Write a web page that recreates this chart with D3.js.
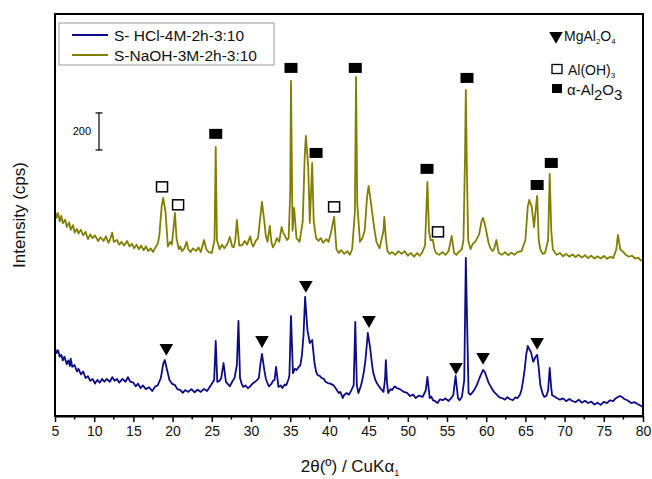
<!DOCTYPE html>
<html><head><meta charset="utf-8">
<script src="https://cdn.jsdelivr.net/npm/d3@7"></script>
<style>
body{margin:0;background:#fff;}
text{font-family:"Liberation Sans",Arial,Helvetica,sans-serif;}
</style></head>
<body><svg id="c" width="652" height="479"></svg>
<script>
// ---- data ----
const xTicks = [5,10,15,20,25,30,35,40,45,50,55,60,65,70,75,80];
const seriesNames = ["S- HCl-4M-2h-3:10", "S-NaOH-3M-2h-3:10"];
const seriesColors = ["#0c0c86", "#827f00"];

// S-NaOH-3M-2h-3:10 : [2theta, cps]
const naohData = [
[5.0,1110],[5.2,1070],[5.4,1095],[5.6,1050],[5.8,1080],[6.0,1040],[6.3,1060],[6.5,1020],[6.8,1045],[7.0,1005],
[7.3,1030],[7.5,990],[7.8,1010],[8.0,985],[8.3,1005],[8.6,975],[8.9,995],[9.2,955],[9.5,980],[9.8,960],
[10.1,975],[10.5,945],[10.8,965],[11.2,945],[11.5,970],[11.8,935],[12.0,950],[12.3,990],[12.5,940],[12.9,950],
[13.2,925],[13.5,940],[13.8,920],[14.2,945],[14.5,915],[14.8,930],[15.1,905],[15.4,925],[15.7,900],[16.0,920],
[16.3,895],[16.6,915],[16.9,890],[17.2,905],[17.5,885],[17.8,910],[18.1,930],[18.3,970],[18.6,1130],[18.8,1177],
[19.1,1100],[19.4,915],[19.7,940],[19.9,925],[20.2,1050],[20.3,1096],[20.5,960],[20.8,900],[21.0,915],[21.2,890],
[21.5,905],[21.8,940],[22.0,900],[22.3,885],[22.6,905],[23.0,890],[23.3,910],[23.6,885],[24.0,950],[24.3,900],
[24.6,885],[25.0,880],[25.35,950],[25.5,1453],[25.65,950],[26.0,900],[26.3,925],[26.6,905],[27.0,930],[27.3,967],
[27.6,915],[27.8,910],[28.0,950],[28.2,1058],[28.5,920],[28.9,923],[29.2,945],[29.5,925],[29.9,970],[30.1,930],
[30.3,915],[30.6,945],[30.9,960],[31.2,1080],[31.4,1156],[31.7,1050],[31.9,970],[32.1,940],[32.4,1026],[32.6,940],
[32.8,910],[33.1,935],[33.3,960],[33.6,940],[33.9,1020],[34.1,990],[34.3,975],[34.6,950],[34.8,960],[35.0,1200],
[35.1,1809],[35.3,1000],[35.5,1123],[35.8,960],[36.2,940],[36.6,1050],[36.85,1400],[37.0,1512],[37.3,1345],[37.5,1042],
[37.7,1250],[37.8,1366],[38.0,1050],[38.3,960],[38.6,945],[38.9,960],[39.2,935],[39.6,955],[39.9,940],[40.2,990],
[40.6,1075],[40.9,900],[41.2,880],[41.5,895],[41.9,875],[42.3,890],[42.6,870],[42.9,900],[43.25,1100],[43.4,1830],
[43.55,1150],[43.9,940],[44.2,960],[44.5,1000],[44.8,1180],[45.0,1242],[45.3,1150],[45.7,1020],[46.0,940],[46.4,905],
[46.9,1000],[47.0,1075],[47.2,960],[47.4,890],[47.7,875],[48.0,885],[48.4,870],[48.8,890],[49.2,875],[49.6,890],
[50.0,865],[50.4,880],[50.8,860],[51.2,880],[51.5,865],[51.8,880],[52.2,920],[52.4,1150],[52.5,1264],[52.7,1000],
[52.9,950],[53.2,950],[53.4,900],[53.6,880],[54.0,870],[54.4,885],[54.8,870],[55.2,890],[55.6,972],[55.9,880],
[56.2,870],[56.6,890],[56.9,900],[57.1,950],[57.3,1400],[57.4,1760],[57.55,1300],[57.7,950],[58.0,900],[58.3,930],
[58.6,940],[59.1,980],[59.4,1050],[59.6,1069],[59.8,1040],[60.0,1000],[60.3,935],[60.5,910],[60.8,890],[61.0,900],
[61.3,950],[61.6,880],[62.0,870],[62.4,885],[62.8,868],[63.2,882],[63.6,870],[64.0,885],[64.5,890],[65.0,950],
[65.3,1130],[65.5,1166],[65.8,1130],[66.1,1020],[66.4,1150],[66.5,1188],[66.7,950],[66.9,900],[67.2,875],[67.5,880],
[67.9,950],[68.1,1307],[68.3,1000],[68.5,900],[68.8,880],[69.0,870],[69.4,880],[69.8,862],[70.2,875],[70.6,860],
[71.0,872],[71.4,858],[71.8,870],[72.2,855],[72.6,868],[73.0,852],[73.4,866],[73.8,850],[74.2,862],[74.6,850],
[75.0,864],[75.4,848],[75.8,860],[76.2,852],[76.6,900],[76.8,977],[77.1,900],[77.5,885],[77.8,870],[78.2,860],
[78.6,865],[79.0,850],[79.4,855],[79.7,840],[80.0,842]
];

// S- HCl-4M-2h-3:10 : [2theta, cps]
const hclData = [
[5.0,367],[5.2,340],[5.4,355],[5.6,320],[5.8,330],[6.0,300],[6.2,320],[6.5,280],[6.7,300],[6.9,270],
[7.0,310],[7.2,265],[7.5,275],[7.8,240],[8.0,255],[8.3,225],[8.6,240],[8.9,205],[9.2,215],[9.5,190],
[9.8,200],[10.1,175],[10.4,195],[10.7,180],[11.0,200],[11.3,185],[11.6,200],[12.0,185],[12.3,210],[12.6,190],
[12.9,200],[13.2,180],[13.6,200],[14.0,185],[14.3,210],[14.6,185],[15.0,180],[15.3,160],[15.6,175],[15.9,150],
[16.2,165],[16.6,145],[17.0,155],[17.4,135],[17.8,160],[18.1,165],[18.5,205],[18.8,280],[19.0,302],[19.3,248],
[19.6,194],[19.9,175],[20.3,167],[20.6,145],[21.0,140],[21.3,125],[21.6,140],[22.0,130],[22.4,145],[22.8,128],
[23.2,142],[23.6,130],[24.0,146],[24.4,135],[24.9,167],[25.3,194],[25.5,405],[25.7,184],[26.0,190],[26.2,205],
[26.5,286],[26.8,184],[27.0,175],[27.3,160],[27.6,185],[27.9,205],[28.2,275],[28.4,513],[28.6,205],[28.8,175],
[29.0,157],[29.3,165],[29.6,150],[29.9,160],[30.2,175],[30.5,184],[30.8,195],[31.0,205],[31.2,280],[31.4,335],
[31.7,248],[31.9,200],[32.1,178],[32.3,160],[32.6,173],[32.8,190],[33.0,194],[33.2,265],[33.5,157],[33.8,165],
[34.0,151],[34.3,170],[34.5,167],[34.8,200],[34.9,221],[35.1,540],[35.35,232],[35.6,255],[35.8,248],[36.1,265],
[36.3,275],[36.5,330],[36.7,437],[36.9,643],[37.2,464],[37.5,394],[37.8,410],[38.1,286],[38.3,240],[38.5,221],
[38.8,215],[39.0,205],[39.3,200],[39.5,185],[39.8,178],[40.1,175],[40.5,167],[40.8,150],[41.2,124],[41.4,130],
[41.7,97],[41.9,115],[42.2,124],[42.5,115],[42.8,140],[43.1,167],[43.3,508],[43.5,167],[43.7,124],[44.0,160],
[44.2,194],[44.4,240],[44.6,302],[44.9,448],[45.2,367],[45.4,290],[45.6,232],[45.9,190],[46.2,167],[46.6,145],
[46.9,130],[47.1,200],[47.2,302],[47.35,180],[47.5,124],[47.8,145],[48.0,140],[48.3,160],[48.6,151],[49.0,145],
[49.5,130],[49.9,125],[50.3,108],[50.7,115],[51.0,97],[51.4,110],[51.9,103],[52.3,140],[52.5,211],[52.8,97],
[53.0,105],[53.2,86],[53.5,80],[53.8,70],[54.1,90],[54.5,86],[54.8,95],[55.2,81],[55.5,95],[55.8,113],
[56.1,216],[56.4,97],[56.6,85],[56.9,103],[57.2,194],[57.4,853],[57.55,535],[57.75,124],[58.0,115],[58.3,130],
[58.6,150],[58.8,167],[59.1,200],[59.3,221],[59.6,248],[59.8,240],[60.0,216],[60.3,180],[60.6,157],[61.0,130],
[61.4,113],[61.7,100],[62.0,97],[62.4,88],[62.7,102],[63.0,92],[63.4,85],[63.7,100],[64.0,97],[64.3,115],
[64.5,140],[64.7,190],[64.9,248],[65.1,330],[65.3,378],[65.5,360],[65.7,346],[66.0,292],[66.3,320],[66.5,330],
[66.7,260],[66.9,167],[67.2,120],[67.4,103],[67.7,110],[67.9,140],[68.1,259],[68.3,150],[68.4,113],[68.7,105],
[69.0,97],[69.4,88],[69.8,95],[70.2,80],[70.6,92],[71.0,81],[71.4,75],[71.8,88],[72.2,72],[72.6,82],
[73.0,70],[73.4,78],[73.8,62],[74.2,72],[74.6,60],[75.0,76],[75.4,70],[75.8,85],[76.2,80],[76.5,95],
[76.8,103],[77.1,108],[77.4,100],[77.6,92],[78.0,85],[78.5,70],[78.9,75],[79.3,65],[79.6,58],[80.0,49]
];

// phase markers [2theta, cps]
const alphaAl2O3 = [[25.5,1523],[35.1,1879],[38.3,1420],[43.3,1879],[52.45,1334],[57.55,1825],[66.5,1247],[68.3,1366]];
const alOH3 = [[18.65,1237],[20.7,1140],[40.6,1129],[53.85,994]];
const mgAl2O4 = [[19.2,367],[31.4,410],[37.0,707],[45.05,518],[56.15,265],[59.6,319],[66.5,400]];

const scaleBar = {label:"200", from:1436, size:200};

// ---- chart ----
const svg = d3.select("#c");
const L=55, R=643, T=14, B=416;
const x = d3.scaleLinear().domain([5,80]).range([L,R]);
const y = d3.scaleLinear().domain([0,2170]).range([B,T]);

const line = d3.line().x(d=>x(d[0])).y(d=>y(d[1]));
svg.append("path").datum(hclData).attr("d",line).attr("fill","none")
  .attr("stroke",seriesColors[0]).attr("stroke-width",1.8).attr("stroke-linejoin","round");
svg.append("path").datum(naohData).attr("d",line).attr("fill","none")
  .attr("stroke",seriesColors[1]).attr("stroke-width",1.8).attr("stroke-linejoin","round");

// markers
svg.selectAll(".fs").data(alphaAl2O3).enter().append("rect")
  .attr("x",d=>x(d[0])-6.5).attr("y",d=>y(d[1])-5).attr("width",13).attr("height",10).attr("fill","#000");
svg.selectAll(".os").data(alOH3).enter().append("rect")
  .attr("x",d=>x(d[0])-5.5).attr("y",d=>y(d[1])-5).attr("width",11).attr("height",10)
  .attr("fill","#fff").attr("stroke","#000").attr("stroke-width",1.5);
const tri = d3.symbol().type(d3.symbolTriangle).size(80);
svg.selectAll(".tr").data(mgAl2O4).enter().append("path")
  .attr("d",tri).attr("transform",d=>`translate(${x(d[0])},${y(d[1])}) rotate(180)`).attr("fill","#000");

// frame
svg.append("rect").attr("x",L).attr("y",T).attr("width",R-L).attr("height",B-T)
  .attr("fill","none").attr("stroke","#000").attr("stroke-width",2);

// x axis
const xAxis = d3.axisBottom(x).tickValues(xTicks).tickSize(6).tickSizeOuter(0).tickPadding(4);
const gx = svg.append("g").attr("transform",`translate(0,${B})`).call(xAxis);
gx.select(".domain").attr("stroke-width",2);
gx.selectAll(".tick line").attr("stroke-width",1.5);
gx.selectAll("text").attr("font-size",14).attr("fill","#111")
  .style("font-family","'Liberation Sans',Arial,sans-serif");
const minor = d3.range(7.5,80,5);
svg.append("g").selectAll("line").data(minor).enter().append("line")
  .attr("x1",d=>x(d)).attr("x2",d=>x(d)).attr("y1",B).attr("y2",B+3.5)
  .attr("stroke","#000").attr("stroke-width",1.5);

// axis labels
const xl = svg.append("text").attr("x",350).attr("y",472).attr("text-anchor","middle").attr("font-size",17).attr("fill","#111");
xl.append("tspan").text("2θ(º) / CuKα");
xl.append("tspan").attr("font-size",9).attr("dy",4).text("1");
svg.append("text").attr("transform","translate(25,215) rotate(-90)").attr("text-anchor","middle")
  .attr("font-size",17).attr("fill","#111").text("Intensity (cps)");

// scale bar
const sbx = 99;
const sb = svg.append("g").attr("stroke","#000").attr("stroke-width",1.2);
sb.append("line").attr("x1",sbx).attr("x2",sbx).attr("y1",y(scaleBar.from)).attr("y2",y(scaleBar.from+scaleBar.size));
sb.append("line").attr("x1",sbx-3.5).attr("x2",sbx+3.5).attr("y1",y(scaleBar.from)).attr("y2",y(scaleBar.from));
sb.append("line").attr("x1",sbx-3.5).attr("x2",sbx+3.5).attr("y1",y(scaleBar.from+scaleBar.size)).attr("y2",y(scaleBar.from+scaleBar.size));
svg.append("text").attr("x",91).attr("y",(y(scaleBar.from)+y(scaleBar.from+scaleBar.size))/2+4)
  .attr("text-anchor","end").attr("font-size",11).text(scaleBar.label);

// series legend
svg.append("rect").attr("x",59).attr("y",23).attr("width",215).attr("height",42)
  .attr("fill","#fff").attr("stroke","#9a9a9a").attr("stroke-width",1);
seriesNames.forEach((n,i)=>{
  const yy = 35 + i*20;
  svg.append("line").attr("x1",72).attr("x2",108).attr("y1",yy).attr("y2",yy)
    .attr("stroke",seriesColors[i]).attr("stroke-width",1.8);
  svg.append("text").attr("x",114).attr("y",yy+5.5).attr("font-size",15.5).attr("fill","#111").text(n);
});

// phase legend
svg.append("path").attr("d",tri).attr("transform",`translate(556,36) rotate(180)`).attr("fill","#000");
const t1 = svg.append("text").attr("x",564).attr("y",41).attr("font-size",14).attr("fill","#111");
t1.append("tspan").text("MgAl");
t1.append("tspan").attr("font-size",8).attr("dy",3).text("2");
t1.append("tspan").attr("dy",-3).text("O");
t1.append("tspan").attr("font-size",8).attr("dy",3).text("4");
svg.append("rect").attr("x",552).attr("y",64.5).attr("width",10).attr("height",9)
  .attr("fill","#fff").attr("stroke","#000").attr("stroke-width",1.3);
const t2 = svg.append("text").attr("x",568).attr("y",75).attr("font-size",14).attr("fill","#111");
t2.append("tspan").text("Al(OH)");
t2.append("tspan").attr("font-size",8).attr("dy",3).text("3");
svg.append("rect").attr("x",552).attr("y",84).attr("width",10).attr("height",9).attr("fill","#000");
const t3 = svg.append("text").attr("x",567).attr("y",95).attr("font-size",15).attr("fill","#111");
t3.append("tspan").text("α-Al");
t3.append("tspan").attr("dy",5).text("2");
t3.append("tspan").attr("dy",-5).text("O");
t3.append("tspan").attr("dy",5).text("3");
</script></body></html>
